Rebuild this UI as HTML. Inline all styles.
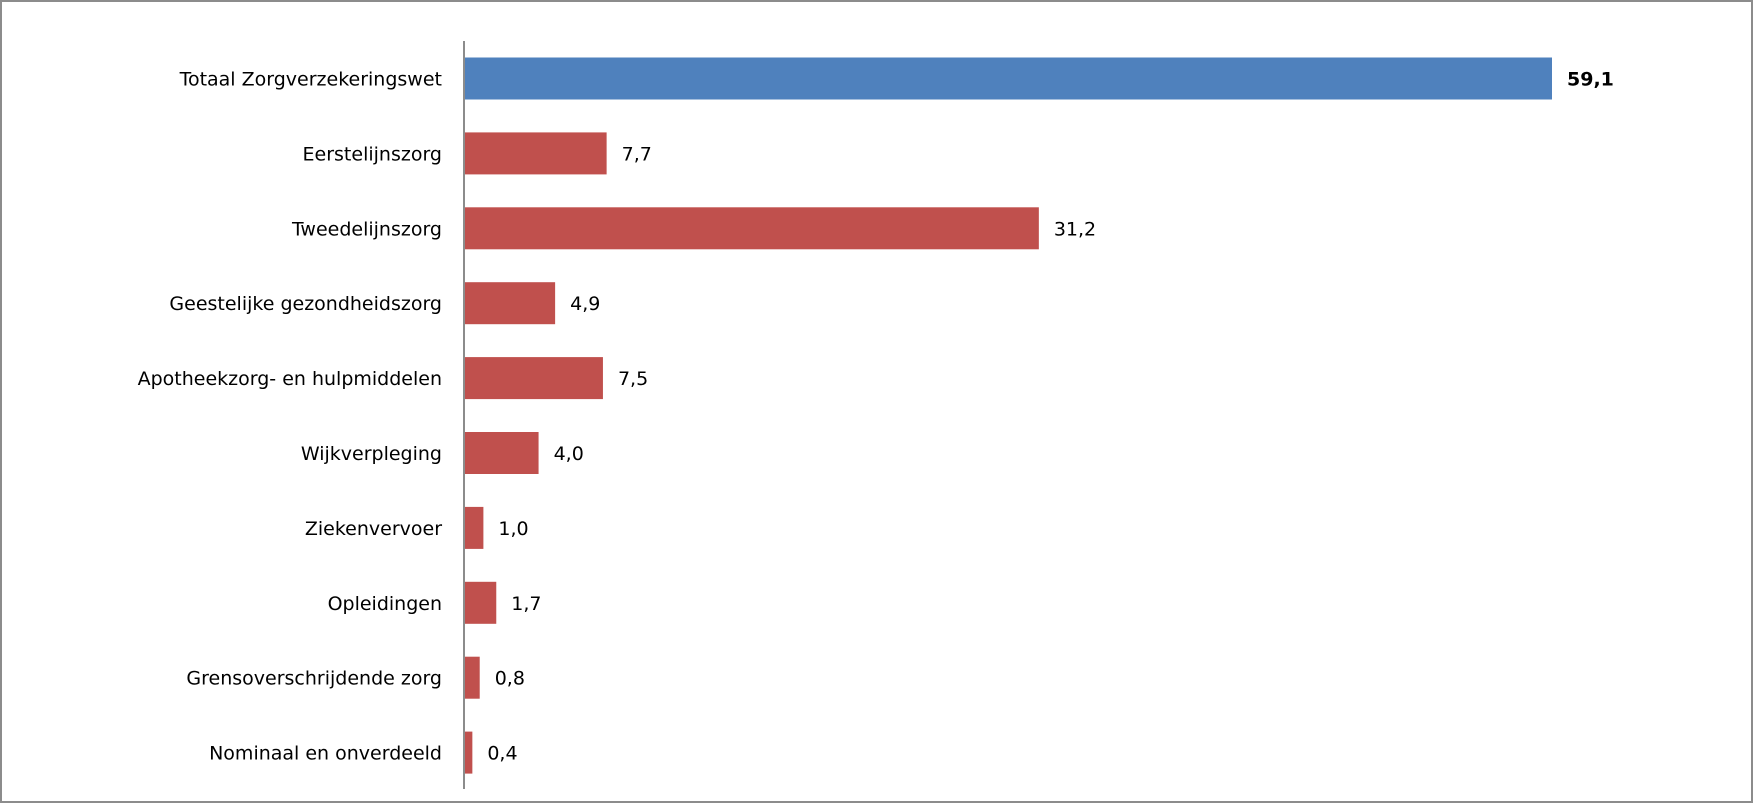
<!DOCTYPE html>
<html><head><meta charset="utf-8"><style>
html,body{margin:0;padding:0;background:#fff;}
svg{display:block;font-family:"DejaVu Sans","Liberation Sans",sans-serif;}
</style></head><body>
<svg id="chart" width="1753" height="803">
<rect x="1" y="1" width="1751" height="801" fill="#fff" stroke="#8c8c8c" stroke-width="2"/>
<g id="bars"></g>
<line x1="464" y1="41" x2="464" y2="789" stroke="#8c8c8c" stroke-width="2"/>
</svg>
<script>
const categories = ["Totaal Zorgverzekeringswet","Eerstelijnszorg","Tweedelijnszorg","Geestelijke gezondheidszorg","Apotheekzorg- en hulpmiddelen","Wijkverpleging","Ziekenvervoer","Opleidingen","Grensoverschrijdende zorg","Nominaal en onverdeeld"];
const values = [59.1,7.7,31.2,4.9,7.5,4.0,1.0,1.7,0.8,0.4];
const valueLabels = ["59,1","7,7","31,2","4,9","7,5","4,0","1,0","1,7","0,8","0,4"];

const NS="http://www.w3.org/2000/svg";
const x0=465, pxPerUnit=1087/59.1;
const xScale=v=>x0+v*pxPerUnit;
const yCenter=i=>78.5+i*74.9;
const barH=42;
const g=document.getElementById('bars');
categories.forEach((c,i)=>{
  const yc=yCenter(i);
  const r=document.createElementNS(NS,'rect');
  r.setAttribute('x',x0);
  r.setAttribute('y',yc-barH/2);
  r.setAttribute('width',xScale(values[i])-x0);
  r.setAttribute('height',barH);
  r.setAttribute('fill',i===0?'#4f81bd':'#c0504d');
  
  
  g.appendChild(r);
  const t=document.createElementNS(NS,'text');
  t.setAttribute('x',442);
  t.setAttribute('y',yc+7);
  t.setAttribute('text-anchor','end');
  t.setAttribute('font-size','19');
  t.setAttribute('fill','#000');
  t.textContent=c;
  
  
  g.appendChild(t);
  const v=document.createElementNS(NS,'text');
  v.setAttribute('x',xScale(values[i])+15);
  v.setAttribute('y',yc+7);
  v.setAttribute('font-size','19');
  if(i===0)v.setAttribute('font-weight','bold');
  v.textContent=valueLabels[i];
  
  
  g.appendChild(v);
});
</script>
</body></html>
